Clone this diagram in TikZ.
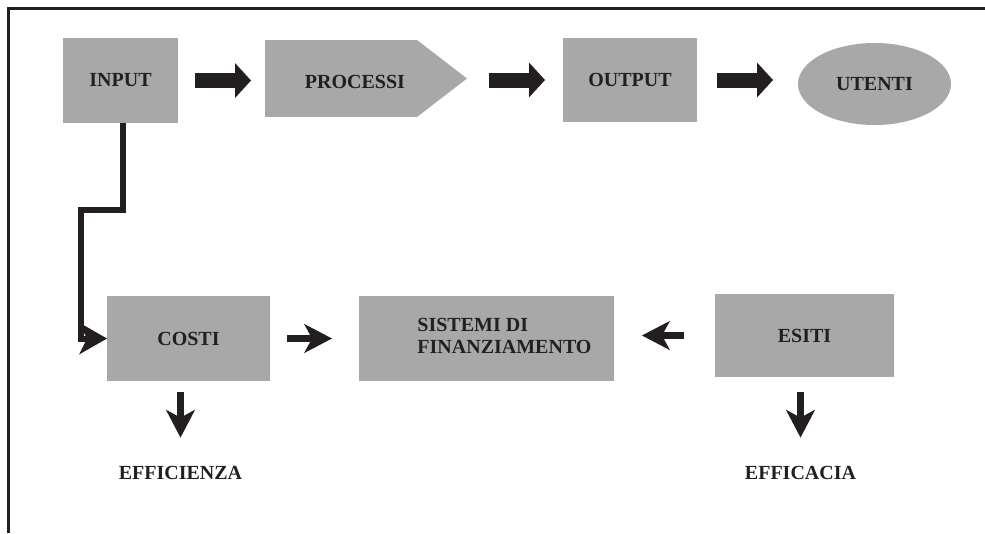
\documentclass[tikz,border=0pt]{standalone}
\usepackage{fontspec}
\setmainfont{Liberation Serif}
\usetikzlibrary{arrows.meta,shapes.geometric}
\definecolor{grigio}{RGB}{168,168,168}
\definecolor{scuro}{RGB}{35,31,32}
\begin{document}
\begin{tikzpicture}[x=0.75pt,y=-0.75pt]
\tikzset{boite/.style={fill=grigio, inner sep=0pt, outer sep=0pt, text=scuro, font=\fontsize{15}{17}\selectfont\bfseries}}
\tikzset{testo/.style={inner sep=1.5pt, text=scuro, font=\fontsize{15}{17}\selectfont\bfseries}}
\tikzset{grossa/.style={draw=scuro, line width=11.25pt, -{Triangle[length=12pt, width=26.25pt, line width=0pt]}}}
\tikzset{fine/.style={draw=scuro, line width=5.25pt, -{Stealth[length=21pt, width=22pt, inset=6pt, line width=0pt]}}}
\tikzset{gomito/.style={draw=scuro, line width=4.5pt, line join=miter, -{Stealth[length=21pt, width=24pt, inset=6pt, line width=0pt]}}}
\useasboundingbox (0,0) rectangle (985,533);
\draw[scuro, line width=2.25pt] (8,533) -- (8,8) -- (985,8);
\node[boite, minimum width=86.25pt, minimum height=63.75pt] (Input) at (120.5,80.5) {INPUT};
\node[boite, minimum width=114pt, minimum height=57.75pt] (Processi) at (341,78.5) {};
\coordinate (Punta) at (467,78.5);
\fill[grigio] (Processi.north east) -- (Punta) -- (Processi.south east) -- cycle;
\node[testo] (ProcessiTesto) at (355,81.5) {PROCESSI};
\node[boite, minimum width=100.5pt, minimum height=63pt] (Output) at (630,80) {OUTPUT};
\node[boite, ellipse, minimum width=114.75pt, minimum height=61.5pt] (Utenti) at (874.5,84) {UTENTI};
\node[boite, minimum width=122.25pt, minimum height=63.75pt] (Costi) at (188.5,338.5) {COSTI};
\node[boite, minimum width=191.25pt, minimum height=63.75pt] (Sistemi) at (486.5,338.5) {};
\node[testo, align=left] (SistemiTesto) at (504.5,336) {SISTEMI DI\\ FINANZIAMENTO};
\node[boite, minimum width=134.25pt, minimum height=62.25pt] (Esiti) at (804.5,335.5) {ESITI};
\node[testo] (Efficienza) at (180.5,473) {EFFICIENZA};
\node[testo] (Efficacia) at (800.5,473) {EFFICACIA};
\coordinate (Gomito1) at (123,210);
\coordinate (Gomito2) at (81,210);
\draw[grossa, shorten <=12.75pt, shorten >=10.5pt] (Input.east) -- (Input.east -| Processi.west);
\draw[grossa, shorten <=16.5pt, shorten >=13.5pt] (Output.west -| Punta) -- (Output.west);
\draw[grossa, shorten <=15pt, shorten >=18.75pt] (Output.east) -- (Output.east -| Utenti.west);
\draw[gomito] (Input.south -| Gomito1) -- (Gomito1) -- (Gomito2) |- (Costi.west);
\draw[fine, shorten <=12.75pt, shorten >=20.25pt] (Costi.east) -- (Costi.east -| Sistemi.west);
\draw[fine, shorten <=23.25pt, shorten >=21pt] (Esiti.west) -- (Esiti.west -| Sistemi.east);
\draw[fine, shorten <=8.25pt, shorten >=19.8pt] (Costi.south -| Efficienza.north) -- (Efficienza.north);
\draw[fine, shorten <=11.25pt, shorten >=19.8pt] (Esiti.south -| Efficacia.north) -- (Efficacia.north);
\end{tikzpicture}
\end{document}
